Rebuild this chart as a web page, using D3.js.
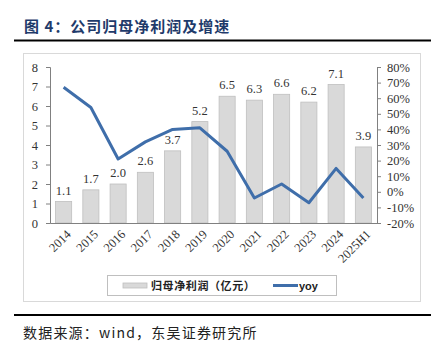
<!DOCTYPE html>
<html><head><meta charset="utf-8">
<script src="https://cdn.jsdelivr.net/npm/d3@7"></script>
<style>body{margin:0;background:#fff}svg{display:block}</style>
</head><body>
<script>
const categories = ["2014","2015","2016","2017","2018","2019","2020","2021","2022","2023","2024","2025H1"];
const profit = [1.1,1.7,2.0,2.6,3.7,5.2,6.5,6.3,6.6,6.2,7.1,3.9];
const yoy = [67,54,21,32,40,41,26,-4,5,-7,15,-4];
const leftTicks = [0,1,2,3,4,5,6,7,8];
const rightTicks = [-20,-10,0,10,20,30,40,50,60,70,80];
const titleText = "图 4：公司归母净利润及增速";
const sourceText = "数据来源：wind，东吴证券研究所";
const legendLabels = ["归母净利润（亿元）","yoy"];

const W=442,H=348;
const svg=d3.select("body").append("svg").attr("width",W).attr("height",H);
const serif="'Liberation Serif','DejaVu Serif',serif";
const cjk="'Noto Sans CJK SC',sans-serif";

// title
svg.append("text").attr("x",24).attr("y",32).attr("font-family",cjk).attr("font-weight","bold")
  .attr("font-size",15).attr("letter-spacing",1).attr("fill","#1f3b6b").text(titleText);
svg.append("line").attr("x1",14).attr("x2",431).attr("y1",40.5).attr("y2",40.5).attr("stroke","#000").attr("stroke-width",2);
// frame
svg.append("rect").attr("x",23.5).attr("y",53.5).attr("width",397).attr("height",248).attr("fill","none").attr("stroke","#d9d9d9");
// bottom rule + source
svg.append("line").attr("x1",14).attr("x2",431).attr("y1",315).attr("y2",315).attr("stroke","#000").attr("stroke-width",2);
svg.append("text").attr("x",23).attr("y",338).attr("font-family",cjk).attr("font-size",14).attr("letter-spacing",1.2).attr("fill","#222").text(sourceText);

const x=d3.scaleBand().domain(categories).range([50,377]).paddingInner(0.41).paddingOuter(0.205);
const yL=d3.scaleLinear().domain([0,8]).range([223,67]);
const yR=d3.scaleLinear().domain([-20,80]).range([223,67]);

// bars
svg.append("g").selectAll("rect").data(profit).join("rect")
  .attr("x",(d,i)=>x(categories[i])).attr("width",x.bandwidth())
  .attr("y",d=>yL(d)).attr("height",d=>yL(0)-yL(d))
  .attr("fill","#d9d9d9").attr("stroke","#bfbfbf").attr("stroke-width",0.8);
svg.append("g").selectAll("text").data(profit).join("text")
  .attr("x",(d,i)=>x(categories[i])+x.bandwidth()/2).attr("y",d=>yL(d)-7)
  .attr("text-anchor","middle").attr("font-family",serif).attr("font-size",12.5).attr("fill","#333")
  .text(d=>d.toFixed(1));

// axes
const axL=svg.append("g").attr("transform","translate(50,0)").call(d3.axisLeft(yL).tickValues(leftTicks).tickSize(4).tickPadding(8));
const axR=svg.append("g").attr("transform","translate(377,0)").call(d3.axisRight(yR).tickValues(rightTicks).tickFormat(d=>d+"%").tickSize(4).tickPadding(6));
[axL,axR].forEach(a=>{a.select(".domain").attr("stroke","#808080");a.selectAll(".tick line").attr("stroke","#808080");
  a.selectAll("text").attr("font-family",serif).attr("font-size",12.5).attr("fill","#333");});
const axB=svg.append("g").attr("transform","translate(0,223)").call(d3.axisBottom(x).tickSize(0).tickPadding(0));
axB.select(".domain").attr("stroke","#808080");
axB.selectAll("text").attr("font-family",serif).attr("font-size",12.5).attr("fill","#333")
  .attr("text-anchor","end").attr("transform","translate(5,9) rotate(-45)").attr("dy","0.35em");

// line
const line=d3.line().x((d,i)=>x(categories[i])+x.bandwidth()/2).y(d=>yR(d));
svg.append("path").datum(yoy).attr("d",line).attr("fill","none").attr("stroke","#3f6eaa").attr("stroke-width",3).attr("stroke-linejoin","round");

// legend
const lg=svg.append("g");
lg.append("rect").attr("x",107.5).attr("y",275.5).attr("width",229).attr("height",20).attr("fill","#fff").attr("stroke","#bfbfbf");
lg.append("rect").attr("x",123).attr("y",283).attr("width",24).attr("height",5).attr("fill","#d9d9d9").attr("stroke","#bfbfbf").attr("stroke-width",0.8);
lg.append("text").attr("x",151).attr("y",290).attr("font-family",cjk).attr("font-weight","bold").attr("font-size",11).attr("letter-spacing",0.6).attr("fill","#222").text(legendLabels[0]);
lg.append("line").attr("x1",273).attr("x2",298).attr("y1",285.5).attr("y2",285.5).attr("stroke","#3f6eaa").attr("stroke-width",3);
lg.append("text").attr("x",299).attr("y",290).attr("font-family","'Liberation Sans',Arial,sans-serif").attr("font-weight","bold").attr("font-size",11).attr("fill","#222").text(legendLabels[1]);
</script>
</body></html>
